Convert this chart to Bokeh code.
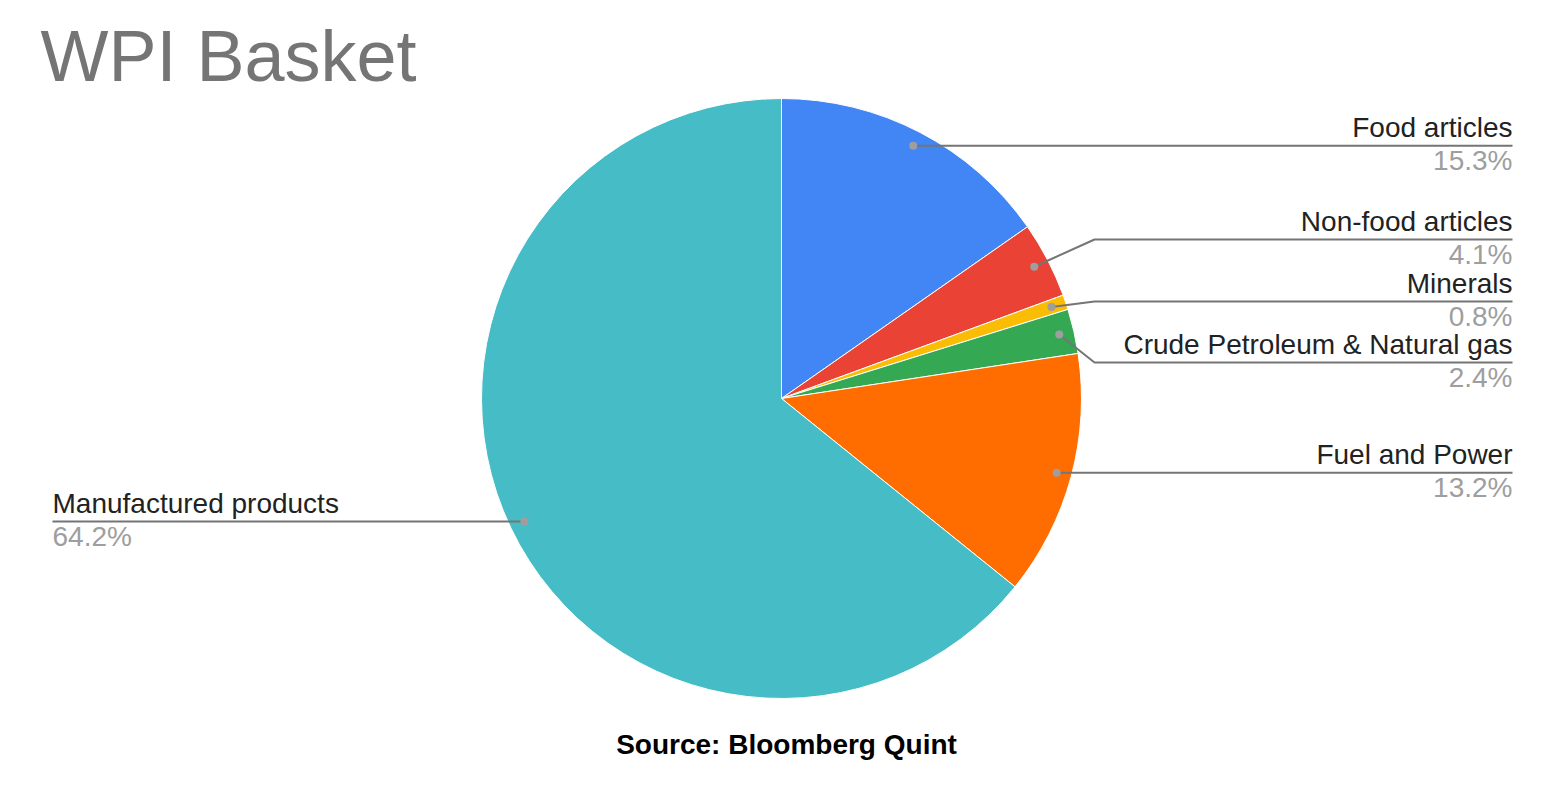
import math

from bokeh.core.properties import value
from bokeh.embed import file_html
from bokeh.models import Range1d
from bokeh.plotting import figure
from bokeh.resources import INLINE

# WPI basket weights (%)
categories = [
    "Food articles",
    "Non-food articles",
    "Minerals",
    "Crude Petroleum & Natural gas",
    "Fuel and Power",
    "Manufactured products",
]
weights = [15.3, 4.1, 0.8, 2.4, 13.2, 64.2]
slice_colors = ["#4285F4", "#EA4335", "#FBBC04", "#34A853", "#FF6D01", "#46BDC6"]

W, H = 1563, 787
CX, CY, R = 781, 398, 300          # pie centre / radius (screen px, y down)
DOT_R = 0.95 * R                   # where leader lines start inside a slice

# leader-line layout: (side, y of the horizontal run or None to stay level, elbow x)
leader_layout = [
    ("right", None, None),
    ("right", 239, 1094),
    ("right", 301, 1094),
    ("right", 362, 1094),
    ("right", None, None),
    ("left", None, None),
]
RIGHT_X, LEFT_X = 1512, 52

LABEL_FONT = value("Liberation Sans")
LABEL_SIZE = "28px"
NAME_DY = -18     # name text sits above the leader line
PCT_DY = 15       # percentage sits below it


def fy(y):
    """screen y (top-down) -> data y (bottom-up)"""
    return H - y


p = figure(
    width=W, height=H,
    x_range=Range1d(0, W), y_range=Range1d(0, H),
    output_backend="svg", toolbar_location=None,
    min_border=0, outline_line_color=None,
)
p.axis.visible = False
p.grid.visible = False
p.background_fill_color = "white"
p.border_fill_color = "white"

total = sum(weights)
starts, ends, mids = [], [], []
acc = 0.0
for w in weights:
    a0 = acc / total
    acc += w
    a1 = acc / total
    starts.append(math.pi / 2 - 2 * math.pi * a0)
    ends.append(math.pi / 2 - 2 * math.pi * a1)
    mids.append(2 * math.pi * (a0 + a1) / 2)   # clockwise from 12 o'clock

p.wedge(
    x=CX, y=fy(CY), radius=R,
    start_angle=starts, end_angle=ends, direction="clock",
    fill_color=slice_colors, line_color="white", line_width=1,
)

LINE_COLOR = "#757575"
for name, w, m, (side, ly, ex) in zip(categories, weights, mids, leader_layout):
    dx = CX + DOT_R * math.sin(m)
    dy = CY - DOT_R * math.cos(m)
    line_y = dy if ly is None else ly
    end_x = RIGHT_X if side == "right" else LEFT_X
    if ly is None:
        xs, ys = [dx, end_x], [fy(dy), fy(dy)]
    else:
        xs, ys = [dx, ex, end_x], [fy(dy), fy(ly), fy(ly)]
    p.line(xs, ys, line_color=LINE_COLOR, line_width=2)
    p.scatter([dx], [fy(dy)], size=8, fill_color="#9e9e9e", line_color=None)

    align = "right" if side == "right" else "left"
    p.text(
        [end_x], [fy(line_y + NAME_DY)], text=[name],
        text_align=align, text_baseline="alphabetic",
        text_font=LABEL_FONT, text_font_size=LABEL_SIZE, text_color="#222222",
    )
    p.text(
        [end_x], [fy(line_y + PCT_DY)], text=[f"{w:.1f}%"],
        text_align=align, text_baseline="alphabetic",
        text_font=LABEL_FONT, text_font_size=LABEL_SIZE, text_color="#9e9e9e",
    )

# title
p.text(
    [40], [fy(55)], text=["WPI Basket"],
    text_align="left", text_baseline="alphabetic",
    text_font=value("Liberation Sans"), text_font_size="72px", text_color="#757575",
)

# source note
p.text(
    [786], [fy(744)], text=["Source: Bloomberg Quint"],
    text_align="center", text_baseline="alphabetic",
    text_font=value("Liberation Sans"), text_font_size="28px",
    text_font_style="bold", text_color="#000000",
)

open("out.html", "w").write(file_html(p, INLINE))
